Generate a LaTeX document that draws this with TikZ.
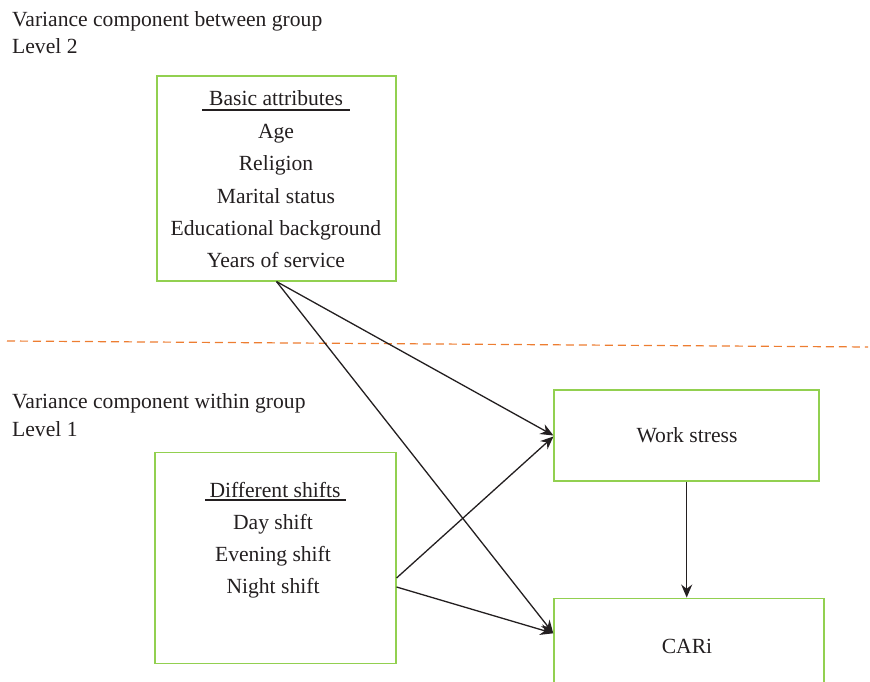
\documentclass[tikz,border=0pt]{standalone}
\usepackage{fontspec}
\setmainfont{Liberation Serif}
\usepackage{tikz}
\usetikzlibrary{arrows.meta}

\definecolor{boxgreen}{RGB}{146,208,80}
\definecolor{lineorange}{RGB}{237,125,49}
\definecolor{inkgray}{RGB}{35,31,32}

\tikzset{
  box/.style={draw=boxgreen,line width=1.5pt,inner sep=0pt},
  txt/.style={text=inkgray,font=\fontsize{21.6}{26}\selectfont,inner sep=0pt,anchor=base},
  hdr/.style={txt,anchor=base west},
  link/.style={draw=inkgray,line width=1.3pt,-{Stealth[length=13pt,width=11pt]}}
}

\begin{document}
\begin{tikzpicture}[x=1pt,y=-1pt]
        \useasboundingbox (0,0) rectangle (870,682);
        % level 2
        \node[hdr] (between) at (12,27) {Variance component between group};
        \node[hdr] (level2) at (12,54) {Level 2};
        \node[box,minimum width=239pt,minimum height=205pt] (basic) at (276.5,178.3) {};
        \node[txt] (basictitle) at (276,106) {Basic attributes};
        \draw[inkgray,line width=2.4pt] (202,110) -- (350,110);
        \node[txt] (age) at (276,139) {Age};
        \node[txt] (religion) at (276,171) {Religion};
        \node[txt] (marital) at (276,203) {Marital status};
        \node[txt] (education) at (276,235) {Educational background};
        \node[txt] (service) at (276,267) {Years of service};
        % separator
        \coordinate (sepl) at (7,341);
        \coordinate (sepr) at (868,347);
        \draw[lineorange,line width=1.2pt,dash pattern=on 8pt off 5pt] (sepl) -- (sepr);
        % level 1
        \node[hdr] (within) at (12,408) {Variance component within group};
        \node[hdr] (level1) at (12,436) {Level 1};
        \node[box,minimum width=241pt,minimum height=211pt] (shifts) at (275.3,558) {};
        \node[txt] (shiftstitle) at (275,497) {Different shifts};
        \draw[inkgray,line width=2.4pt] (205,500) -- (346,500);
        \node[txt] (day) at (273,529) {Day shift};
        \node[txt] (evening) at (273,561) {Evening shift};
        \node[txt] (night) at (273,593) {Night shift};
        % outcomes
        \node[box,minimum width=265pt,minimum height=91pt] (work) at (686.7,435.5) {};
        \node[txt] (worktext) at (687,442) {Work stress};
        \node[box,minimum width=270pt,minimum height=100pt] (cari) at (689,648.3) {};
        \node[txt] (caritext) at (687,653) {CARi};
        % arrows
        \draw[link] (basic.south) -- (work.west);
        \draw[link] (basic.south) -- ([yshift=15pt]cari.west);
        \draw[link] ([yshift=-20pt]shifts.east) -- ([yshift=-1pt]work.west);
        \draw[link] ([yshift=-29pt]shifts.east) -- ([yshift=15pt]cari.west);
        \draw[link] (work.south) -- (work.south |- cari.north);
\end{tikzpicture}
\end{document}
